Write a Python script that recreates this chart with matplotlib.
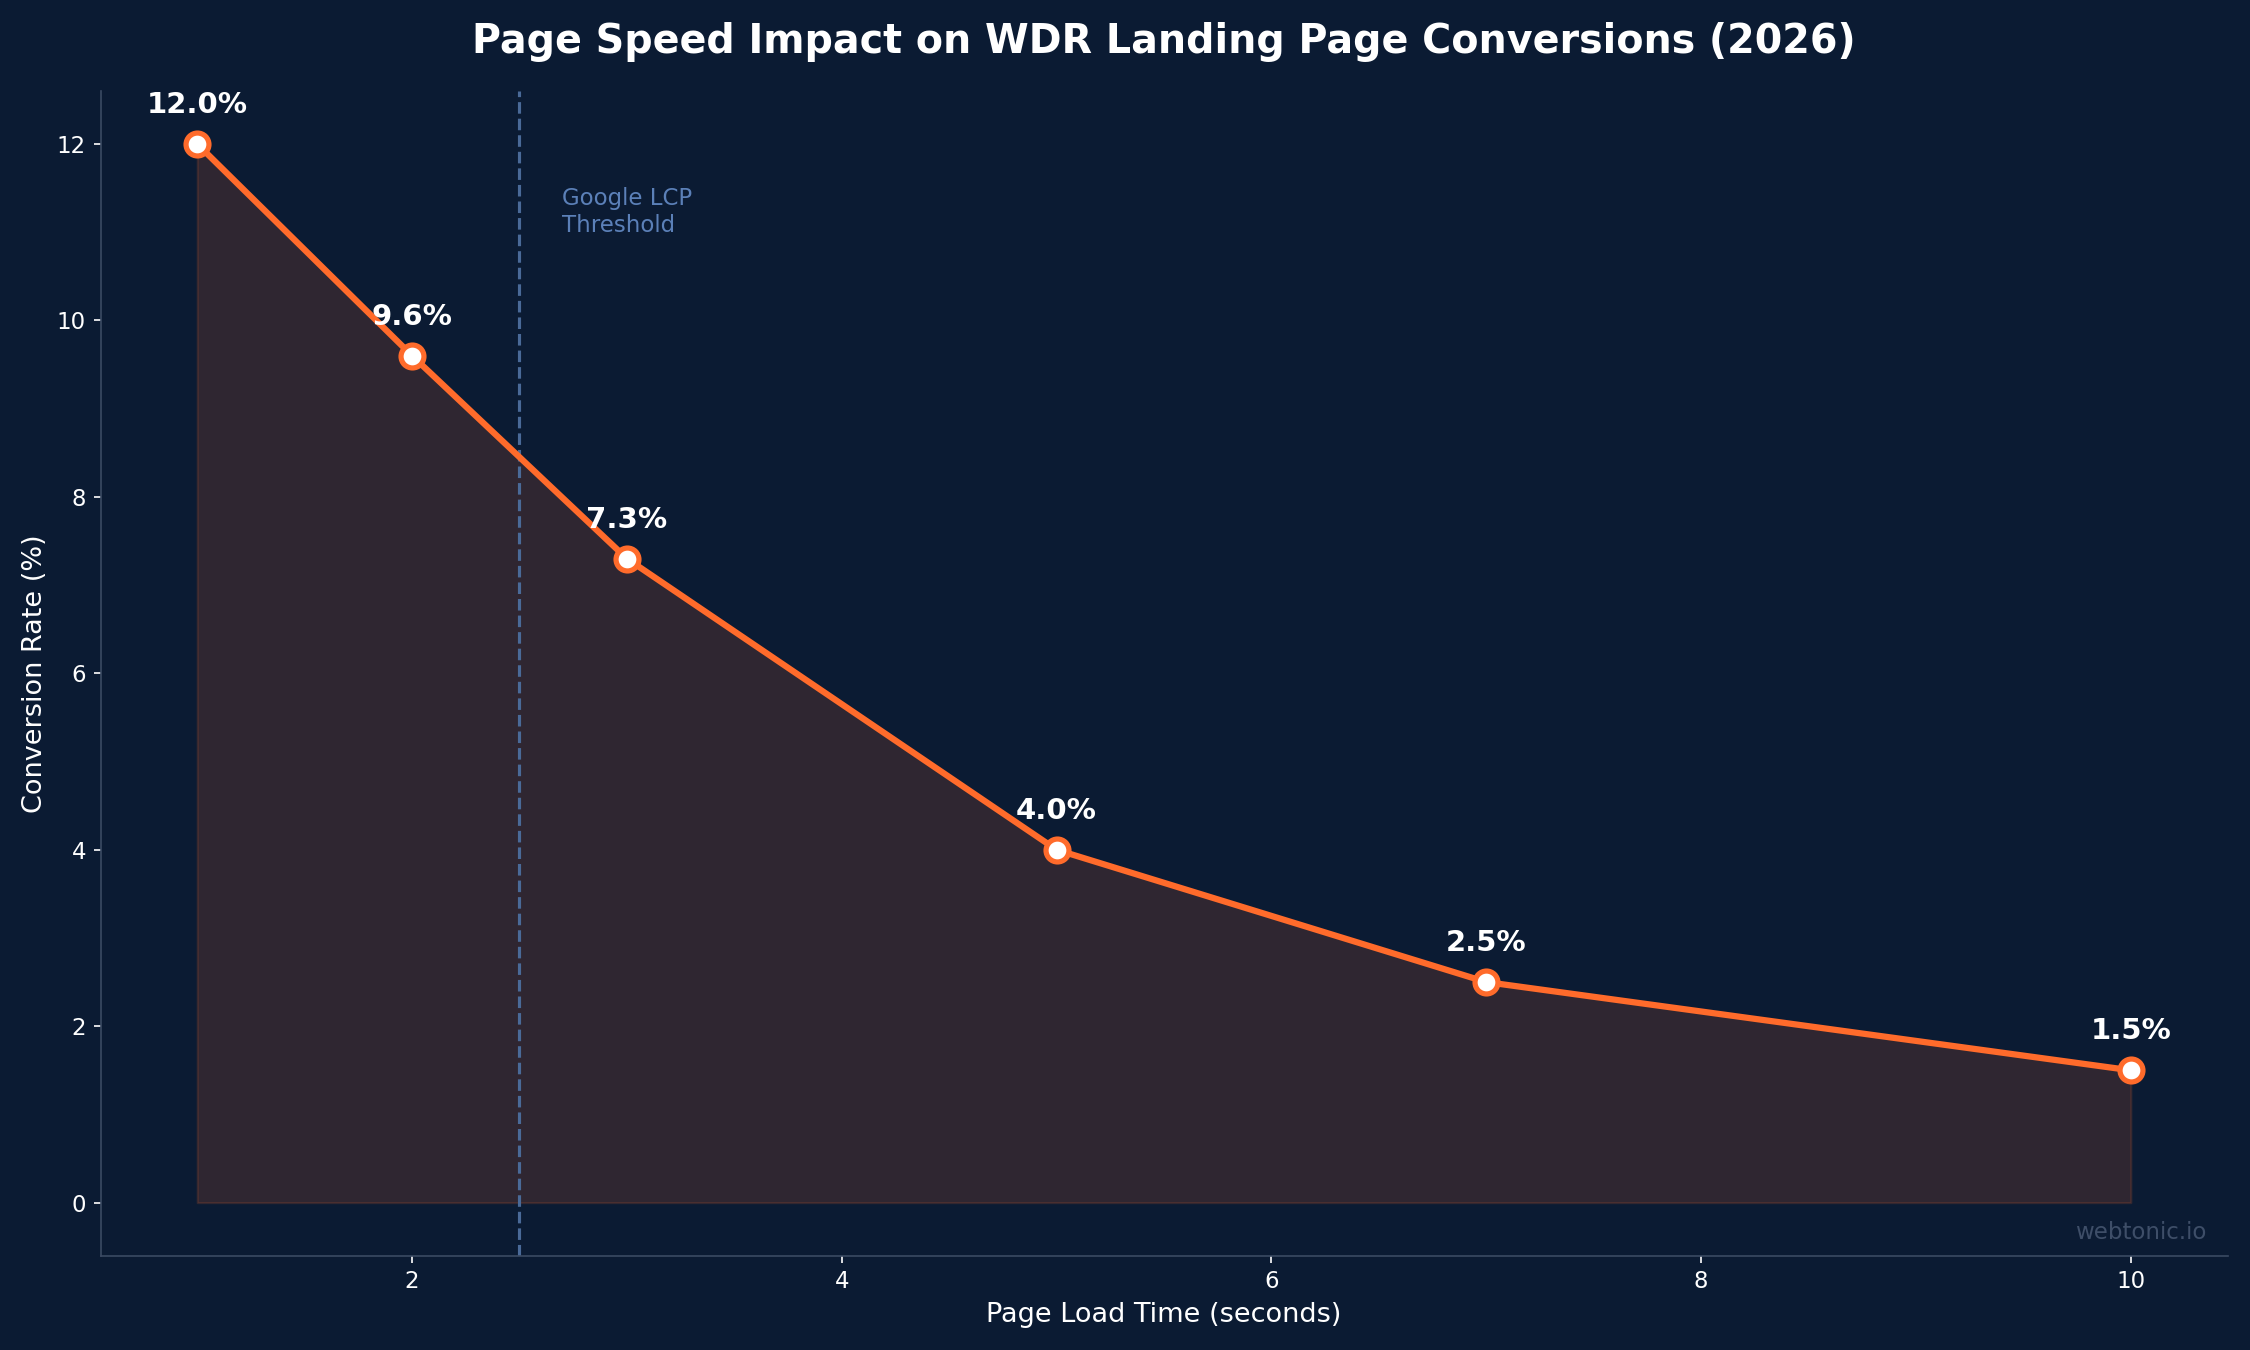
import numpy as np
import matplotlib.pyplot as plt

# data
load_times = [1, 2, 3, 5, 7, 10]
conversion = [12.0, 9.6, 7.3, 4.0, 2.5, 1.5]
lcp_threshold = 2.5

BG = '#0b1b33'
ORANGE = '#ff6b2b'
SPINE = '#3b4a63'
DASH = '#4a6a98'

plt.rcParams['font.family'] = ['DejaVu Sans']

fig, ax = plt.subplots(figsize=(15, 9), dpi=150)
fig.patch.set_facecolor(BG)
ax.set_facecolor(BG)

ax.fill_between(load_times, conversion, color=ORANGE, alpha=0.15)
ax.plot(load_times, conversion, color=ORANGE, linewidth=3, marker='o',
        markersize=11, markerfacecolor='white', markeredgecolor=ORANGE,
        markeredgewidth=2.5, zorder=3)

for x, y in zip(load_times, conversion):
    ax.annotate(f"{y:.1f}%", (x, y), xytext=(0, 12), textcoords='offset points',
                ha='center', va='bottom', color='white', fontsize=14,
                fontweight='bold')

# LCP threshold marker
ax.axvline(lcp_threshold, color=DASH, linestyle='--', linewidth=1.5)
ax.text(lcp_threshold + 0.2, 10.95, "Google LCP\nThreshold", color='#5b80b8',
        fontsize=11, ha='left', va='bottom')

ax.set_title("Page Speed Impact on WDR Landing Page Conversions (2026)",
             color='white', fontsize=19, fontweight='bold', pad=18)
ax.set_xlabel("Page Load Time (seconds)", color='white', fontsize=13)
ax.set_ylabel("Conversion Rate (%)", color='white', fontsize=13)

ax.tick_params(colors='white', labelsize=11)
for s in ['top', 'right']:
    ax.spines[s].set_visible(False)
for s in ['left', 'bottom']:
    ax.spines[s].set_color(SPINE)

ax.text(0.99, 0.01, "webtonic.io", transform=ax.transAxes, ha='right',
        va='bottom', color='#3e4e68', fontsize=11)

plt.tight_layout()
plt.savefig("out.png", facecolor=BG)
